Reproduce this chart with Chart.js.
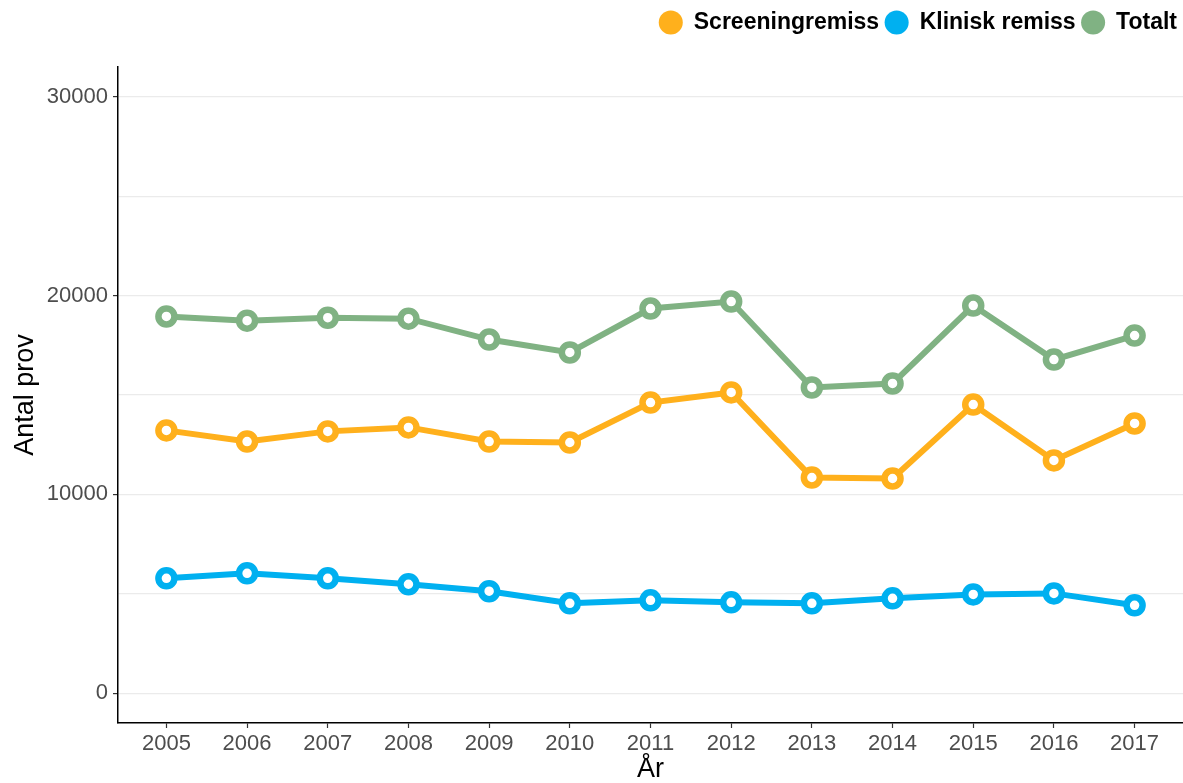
<!DOCTYPE html>
<html>
<head>
<meta charset="utf-8">
<script src="https://cdn.jsdelivr.net/npm/chart.js@4/dist/chart.umd.min.js"></script>
<style>
  body { margin: 0; background: #fff; }
  canvas { display: block; }
</style>
</head>
<body>
<canvas id="chart" width="1183" height="783"></canvas>
<script>
// data
const years = [2005, 2006, 2007, 2008, 2009, 2010, 2011, 2012, 2013, 2014, 2015, 2016, 2017];
const screening = [13220, 12660, 13170, 13370, 12660, 12610, 14620, 15130, 10850, 10800, 14520, 11710, 13570];
const klinisk = [5780, 6030, 5780, 5480, 5130, 4520, 4670, 4570, 4520, 4770, 4970, 5020, 4420];
const totalt = [18950, 18740, 18890, 18840, 17790, 17140, 19350, 19700, 15380, 15580, 19500, 16780, 17990];
const yTickValues = [0, 5000, 10000, 15000, 20000, 25000, 30000];
const seriesNames = ['Screeningremiss', 'Klinisk remiss', 'Totalt'];
const seriesColors = ['#FFB01C', '#00B0F0', '#80B283'];

const toPoints = vals => vals.map((v, i) => ({ x: years[i], y: v }));

function makeDataset(name, vals, color) {
    return {
        label: name,
        data: toPoints(vals),
        borderColor: color,
        backgroundColor: color,
        borderWidth: 6,
        pointRadius: 8,
        pointHoverRadius: 8,
        pointBorderWidth: 6.5,
        pointBackgroundColor: '#ffffff',
        pointBorderColor: color,
        pointStyle: 'circle'
    };
}

// legend block takes the top of the canvas down to the plot
const legendHeight = {
    id: 'legendHeight',
    afterInit(chart) {
        const lg = chart.legend;
        const origFit = lg.fit;
        lg.fit = function () {
            origFit.call(this);
            this.height = 62;
        };
    }
};

const tickFont = { family: 'Liberation Sans', size: 22 };

new Chart(document.getElementById('chart'), {
    type: 'line',
    data: {
        datasets: [
            makeDataset(seriesNames[0], screening, seriesColors[0]),
            makeDataset(seriesNames[1], klinisk, seriesColors[1]),
            makeDataset(seriesNames[2], totalt, seriesColors[2])
        ]
    },
    options: {
        responsive: false,
        devicePixelRatio: 1,
        animation: false,
        layout: { autoPadding: false, padding: { top: 5, left: 0, right: 0, bottom: 0 } },
        plugins: {
            tooltip: { enabled: false },
            legend: {
                position: 'top',
                align: 'end',
                labels: {
                    usePointStyle: true,
                    boxHeight: 17,
                    padding: 6,
                    color: '#000',
                    font: { family: 'Liberation Sans', size: 23, weight: 'bold' },
                    generateLabels(chart) {
                        return chart.data.datasets.map((ds, i) => ({
                            text: ds.label,
                            fillStyle: ds.borderColor,
                            strokeStyle: ds.borderColor,
                            lineWidth: 0,
                            pointStyle: 'circle',
                            fontColor: '#000',
                            datasetIndex: i
                        }));
                    }
                }
            }
        },
        scales: {
            x: {
                type: 'linear',
                min: 2004.4,
                max: 2017.6,
                afterFit(scale) {
                    scale.height = 60;
                    scale.paddingLeft = 0;
                    scale.paddingRight = 0;
                },
                border: { color: '#000', width: 1.5 },
                grid: {
                    drawOnChartArea: false,
                    tickLength: 5,
                    tickColor: '#333',
                    tickWidth: 1.2
                },
                ticks: {
                    stepSize: 1,
                    includeBounds: false,
                    autoSkip: false,
                    maxRotation: 0,
                    padding: 3,
                    color: '#4d4d4d',
                    font: tickFont,
                    callback: v => String(v)
                },
                title: {
                    display: true,
                    text: 'År',
                    color: '#000',
                    font: { family: 'Liberation Sans', size: 27, lineHeight: 1 },
                    padding: { top: 0, bottom: 0 }
                }
            },
            y: {
                type: 'linear',
                min: -1500,
                max: 31500,
                afterBuildTicks(scale) {
                    scale.ticks = yTickValues.map(v => ({ value: v }));
                },
                afterFit(scale) {
                    scale.width = 118;
                    scale.paddingTop = 0;
                    scale.paddingBottom = 0;
                },
                border: { color: '#000', width: 1.5 },
                grid: {
                    color: '#ebebeb',
                    lineWidth: 1.2,
                    tickLength: 5,
                    tickWidth: 1.2,
                    tickColor: ctx => (ctx.tick && ctx.tick.value % 10000 === 0) ? '#333' : 'rgba(0,0,0,0)'
                },
                ticks: {
                    autoSkip: false,
                    padding: 5,
                    color: '#4d4d4d',
                    font: tickFont,
                    callback: v => (v % 10000 === 0 ? String(v) : '')
                },
                title: {
                    display: true,
                    text: 'Antal prov',
                    color: '#000',
                    font: { family: 'Liberation Sans', size: 27, lineHeight: 1.2 },
                    padding: { top: 9, bottom: 0 }
                }
            }
        }
    },
    plugins: [legendHeight]
});
</script>
</body>
</html>
